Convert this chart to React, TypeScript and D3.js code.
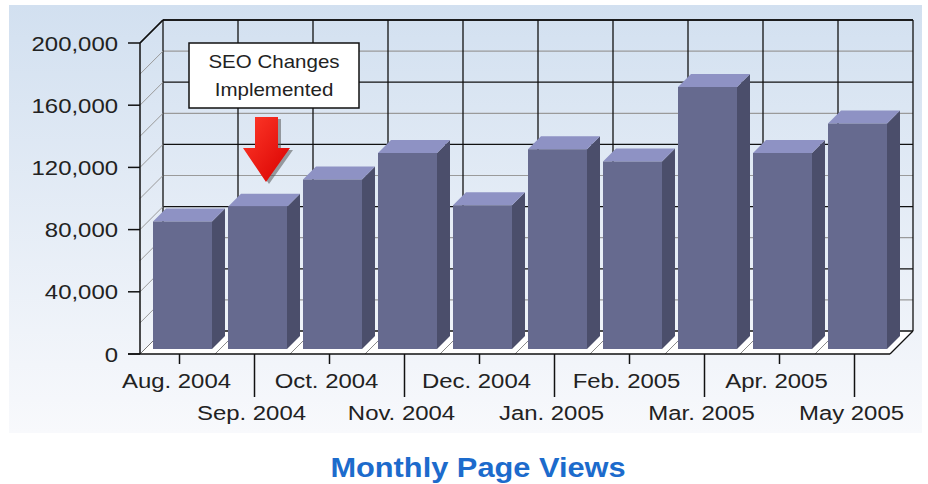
import React from "react";
import * as d3 from "d3";

const months = [
  "Aug. 2004", "Sep. 2004", "Oct. 2004", "Nov. 2004", "Dec. 2004",
  "Jan. 2005", "Feb. 2005", "Mar. 2005", "Apr. 2005", "May 2005",
];
const views = [82000, 91500, 109000, 126000, 92500, 128500, 120500, 168500, 126000, 145000];
const yTicks = [0, 40000, 80000, 120000, 160000, 200000];
const gridValues = [20000, 40000, 60000, 80000, 100000, 120000, 140000, 160000, 180000, 200000];
const annotationLines = ["SEO Changes", "Implemented"];
const annotatedMonth = "Sep. 2004";
const chartTitle = "Monthly Page Views";

const W = 928;
const H = 484;
const X0 = 140;
const X1 = 890;
const Y0 = 354;
const YT = 43;
const D = 23; // wall depth
const ZF = 5; // bar front depth
const ZB = 18; // bar back depth
const INSET = 8;
const SX = 1.14;
const FONT = "'Liberation Sans', Arial, Helvetica, sans-serif";

const x = d3.scaleBand<string>().domain(months).range([X0, X1]).padding(0);
const y = d3.scaleLinear().domain([0, 200000]).range([Y0, YT]);
const fmt = d3.format(",");

const pt = (px: number, v: number, z: number) => [px + z, y(v) - z] as [number, number];
const poly = (pts: [number, number][]) => pts.map((p) => p.join(",")).join(" ");

export default function App() {
  const bw = x.bandwidth();
  const backRight = X1 + D;
  const backTop = YT - D;
  const backBottom = Y0 - D;

  const ax = (x(annotatedMonth) as number) + bw / 2 + ZF + (ZB - ZF) / 2 + 2;

  return (
    <svg
      width={W}
      height={H}
      style={{ position: "absolute", left: 0, top: 0, display: "block" }}
      fontFamily={FONT}
    >
      <defs>
        <linearGradient id="bg" x1="0" y1="0" x2="0" y2="1">
          <stop offset="0" stopColor="#d2e0f0" />
          <stop offset="1" stopColor="#f8f9fc" />
        </linearGradient>
        <linearGradient id="arrowG" x1="0" y1="0" x2="1" y2="1">
          <stop offset="0" stopColor="#ff3a2a" />
          <stop offset="1" stopColor="#d80000" />
        </linearGradient>
      </defs>
      <rect x={0} y={0} width={W} height={H} fill="#ffffff" />
      <rect x={9} y={5} width={913} height={428} fill="url(#bg)" />

      {/* floor */}
      <polygon
        points={poly([[X0, Y0], [X1, Y0], [X1 + D, Y0 - D], [X0 + D, Y0 - D]])}
        fill="#ffffff"
      />
      {months.map((m, i) => (
        <line
          key={"fl" + i}
          x1={(x(m) as number) + bw}
          y1={Y0}
          x2={(x(m) as number) + bw + D}
          y2={Y0 - D}
          stroke="#8a8a8a"
          strokeWidth={1}
        />
      ))}

      {/* back wall grid */}
      {gridValues.map((v, i) => (
        <line
          key={"bg" + i}
          x1={X0 + D}
          x2={backRight}
          y1={y(v) - D}
          y2={y(v) - D}
          stroke={v % 40000 === 0 ? "#111" : "#9a9a9a"}
          strokeWidth={v % 40000 === 0 ? 1.3 : 1.2}
        />
      ))}
      {months.map((m, i) => (
        <line
          key={"bv" + i}
          x1={(x(m) as number) + D}
          x2={(x(m) as number) + D}
          y1={backTop}
          y2={backBottom}
          stroke="#111"
          strokeWidth={1.3}
        />
      ))}
      <line x1={backRight} x2={backRight} y1={backTop} y2={backBottom} stroke="#111" strokeWidth={1.3} />
      <line x1={X0 + D} x2={backRight} y1={backBottom} y2={backBottom} stroke="#111" strokeWidth={1.3} />

      {/* left wall diagonals */}
      {gridValues.map((v, i) => (
        <line
          key={"lw" + i}
          x1={X0}
          y1={y(v)}
          x2={X0 + D}
          y2={y(v) - D}
          stroke={v === 200000 ? "#111" : "#9a9a9a"}
          strokeWidth={v === 200000 ? 1.3 : 1}
        />
      ))}
      <line x1={X0} y1={Y0} x2={X0 + D} y2={Y0 - D} stroke="#777" strokeWidth={1} />

      {/* bars */}
      {months.map((m, i) => {
        const v = views[i];
        const l = (x(m) as number) + INSET;
        const r = (x(m) as number) + bw - INSET;
        const fbl = pt(l, 0, ZF);
        const fbr = pt(r, 0, ZF);
        const ftl = pt(l, v, ZF);
        const ftr = pt(r, v, ZF);
        const btl = pt(l, v, ZB);
        const btr = pt(r, v, ZB);
        const bbr = pt(r, 0, ZB);
        return (
          <g key={"bar" + i}>
            <polygon points={poly([fbr, ftr, btr, bbr])} fill="#4b4e6b" />
            <polygon points={poly([ftl, ftr, btr, btl])} fill="#8e92c4" />
            <polygon points={poly([fbl, fbr, ftr, ftl])} fill="#666a8f" />
          </g>
        );
      })}

      {/* front axes */}
      <line x1={X0} x2={X0} y1={YT} y2={Y0} stroke="#111" strokeWidth={1.5} />
      <line x1={X0} y1={YT} x2={X0 + D} y2={backTop} stroke="#111" strokeWidth={1.3} />
      <line x1={X0 + D} x2={backRight} y1={backTop} y2={backTop} stroke="#111" strokeWidth={1.3} />
      <line x1={X0 - 12} x2={X1} y1={Y0} y2={Y0} stroke="#111" strokeWidth={1.5} />
      <line x1={X1} y1={Y0} x2={X1 + D} y2={Y0 - D} stroke="#111" strokeWidth={1.3} />

      {/* y ticks & labels */}
      {yTicks.map((v, i) => (
        <g key={"yt" + i}>
          <line x1={X0 - 12} x2={X0} y1={y(v)} y2={y(v)} stroke="#111" strokeWidth={1.5} />
          <text
            transform={`translate(${X0 - 22},${y(v) + 7.5}) scale(${SX},1)`}
            textAnchor="end"
            fontSize={21}
            fill="#222"
          >
            {fmt(v)}
          </text>
        </g>
      ))}

      {/* x ticks & labels */}
      {months.map((m, i) => {
        const cx = (x(m) as number) + bw / 2 + 2;
        const lower = i % 2 === 1;
        return (
          <g key={"xt" + i}>
            <line x1={cx} x2={cx} y1={Y0} y2={lower ? 397 : 364} stroke="#111" strokeWidth={1.5} />
            <text
              transform={`translate(${cx - 3},${lower ? 420 : 388}) scale(${SX},1)`}
              textAnchor="middle"
              fontSize={21}
              fill="#222"
            >
              {m}
            </text>
          </g>
        );
      })}

      {/* annotation */}
      <rect x={189} y={43} width={170} height={65} fill="#ffffff" stroke="#111" strokeWidth={1.5} />
      {annotationLines.map((t, i) => (
        <text
          key={"an" + i}
          transform={`translate(${274},${68 + i * 28}) scale(${SX},1)`}
          textAnchor="middle"
          fontSize={18}
          fill="#222"
        >
          {t}
        </text>
      ))}
      <g>
        <polygon
          points={poly([
            [ax - 11 + 3, 117 + 2], [ax + 12 + 3, 117 + 2], [ax + 12 + 3, 148 + 2],
            [ax + 24 + 3, 148 + 2], [ax + 3, 182 + 2], [ax - 23 + 3, 148 + 2], [ax - 11 + 3, 148 + 2],
          ])}
          fill="#555"
          opacity={0.55}
        />
        <polygon
          points={poly([
            [ax - 11, 117], [ax + 12, 117], [ax + 12, 148],
            [ax + 24, 148], [ax, 182], [ax - 23, 148], [ax - 11, 148],
          ])}
          fill="url(#arrowG)"
        />
      </g>

      {/* title */}
      <text
        transform={`translate(${478},${477}) scale(${SX},1)`}
        textAnchor="middle"
        fontSize={27}
        fontWeight="bold"
        fill="#1c6bcc"
      >
        {chartTitle}
      </text>
    </svg>
  );
}
